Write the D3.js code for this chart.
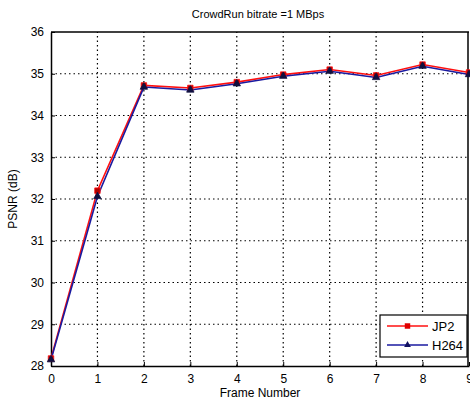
<!DOCTYPE html>
<html>
<head>
<meta charset="utf-8">
<script src="https://cdn.jsdelivr.net/npm/d3@7"></script>
<style>
  body { margin: 0; background: #fff; }
  text { font-family: "Liberation Sans", Arial, sans-serif; }
</style>
</head>
<body>
<svg id="chart" width="470" height="402"></svg>
<script>
const frames = [0, 1, 2, 3, 4, 5, 6, 7, 8, 9]
const jp2 = [28.18, 32.2, 34.72, 34.66, 34.8, 34.98, 35.1, 34.96, 35.22, 35.03]
const h264 = [28.17, 32.08, 34.7, 34.63, 34.78, 34.96, 35.08, 34.93, 35.2, 35.0]
const x_ticks = [0, 1, 2, 3, 4, 5, 6, 7, 8, 9]
const y_ticks = [28, 29, 30, 31, 32, 33, 34, 35, 36]
const series_names = ["JP2", "H264"]

let margin = {top: 32, right: 1, bottom: 36, left: 51}
let W = 470, H = 402
let svg = d3.select("#chart")

let x = d3.scaleLinear().domain([0, 9]).range([margin.left, W - margin.right])
let y = d3.scaleLinear().domain([28, 36]).range([H - margin.bottom, margin.top])

// grid
let grid = svg.append("g")
grid.selectAll("line.gx")
  .data(x_ticks.slice(1, -1)).enter()
  .append("line")
  .attr("x1", d => x(d)).attr("x2", d => x(d))
  .attr("y1", y(28)).attr("y2", y(36))
  .attr("stroke", "#000").attr("stroke-width", 1.2)
  .attr("stroke-dasharray", "1.5,3")
grid.selectAll("line.gy")
  .data(y_ticks.slice(1, -1)).enter()
  .append("line")
  .attr("x1", x(0)).attr("x2", x(9))
  .attr("y1", d => y(d)).attr("y2", d => y(d))
  .attr("stroke", "#000").attr("stroke-width", 1.2)
  .attr("stroke-dasharray", "1.5,3")

// axes
let x_axis = d3.axisBottom(x).tickValues(x_ticks).tickSizeInner(-4).tickSizeOuter(0).tickPadding(8)
let gx = svg.append("g").attr("transform", `translate(0, ${y(28)})`).call(x_axis)
let y_axis = d3.axisLeft(y).tickValues(y_ticks).tickSizeInner(-4).tickSizeOuter(0).tickPadding(7)
let gy = svg.append("g").attr("transform", `translate(${x(0)}, 0)`).call(y_axis)
;[gx, gy].forEach(g => {
  g.selectAll("text").style("font-size", "12px").attr("fill", "#000")
  g.selectAll("line").attr("stroke", "#000")
  g.select(".domain").attr("stroke", "#000").attr("stroke-width", 1.5)
})

// box top/right
svg.append("line").attr("x1", x(0)).attr("x2", x(9)).attr("y1", y(36)).attr("y2", y(36))
  .attr("stroke", "#000").attr("stroke-width", 1.5)
svg.append("line").attr("x1", x(9) - 1).attr("x2", x(9) - 1).attr("y1", y(36)).attr("y2", y(28))
  .attr("stroke", "#000").attr("stroke-width", 1.5)

// lines
let series = [
  {name: series_names[0], values: jp2, color: "#ff1010", marker: d3.symbolSquare},
  {name: series_names[1], values: h264, color: "#1a1aa0", marker: d3.symbolTriangle}
]
let line = d3.line().x((d, i) => x(frames[i])).y(d => y(d))
series.forEach((s, k) => {
  svg.append("path")
    .attr("d", line(s.values))
    .attr("fill", "none")
    .attr("stroke", s.color)
    .attr("stroke-width", 1.6)
    .attr("transform", `translate(0, ${k * 0.8})`)
})
series.forEach((s, k) => {
  svg.append("g").selectAll("path")
    .data(s.values).enter()
    .append("path")
    .attr("d", d3.symbol().type(s.marker).size(k == 0 ? 30 : 24))
    .attr("transform", (d, i) => `translate(${x(frames[i])}, ${y(d) + k * 0.8})`)
    .attr("fill", k == 0 ? "#b00000" : "#101040")
    .attr("stroke", k == 0 ? "#ff1010" : "#101040")
    .attr("stroke-width", 0.8)
})

// legend
let lg = svg.append("g").attr("transform", "translate(380, 315)")
lg.append("rect").attr("width", 87).attr("height", 42)
  .attr("fill", "#fff").attr("stroke", "#000").attr("stroke-width", 1.2)
series.forEach((s, k) => {
  let yy = 11 + k * 19
  lg.append("line").attr("x1", 7).attr("x2", 48).attr("y1", yy).attr("y2", yy)
    .attr("stroke", s.color).attr("stroke-width", 1.6)
  lg.append("path")
    .attr("d", d3.symbol().type(s.marker).size(k == 0 ? 30 : 20))
    .attr("transform", `translate(27.5, ${yy})`)
    .attr("fill", k == 0 ? "#e00000" : "#101060")
  lg.append("text").attr("x", 52).attr("y", yy + 5)
    .style("font-size", "13px").text(s.name)
})

// labels
svg.append("text").attr("x", 258).attr("y", 18).attr("text-anchor", "middle")
  .style("font-size", "11px").text("CrowdRun bitrate =1 MBps")
svg.append("text").attr("x", 260).attr("y", 397).attr("text-anchor", "middle")
  .style("font-size", "12px").text("Frame Number")
svg.append("text").attr("transform", `translate(17, ${(y(28) + y(36)) / 2}) rotate(-90)`)
  .attr("text-anchor", "middle").style("font-size", "12px").text("PSNR (dB)")
</script>
</body>
</html>
